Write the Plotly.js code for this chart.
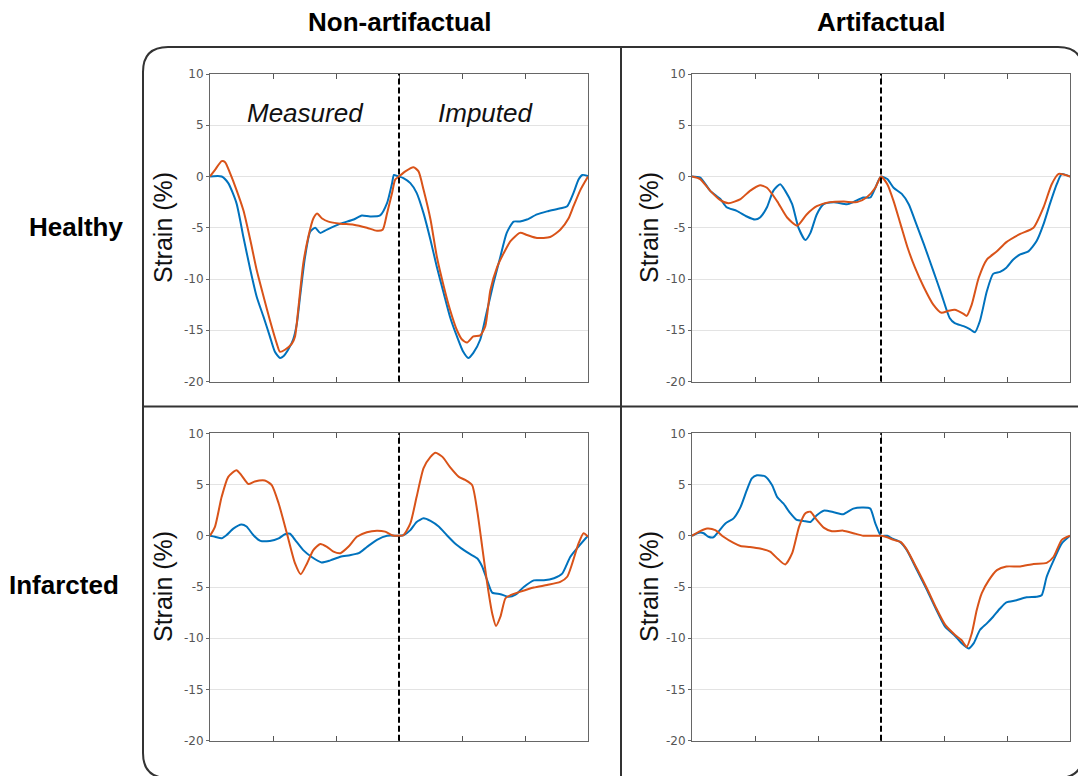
<!DOCTYPE html>
<html>
<head>
<meta charset="utf-8">
<script src="https://cdn.plot.ly/plotly-3.0.1.min.js"></script>
<style>html,body{margin:0;padding:0;background:#fff;}#chart{width:1078px;height:776px;}</style>
</head>
<body>
<div id="chart"></div>
<script>
// ---- Data (strain %) ----
const columnTitles = ["Non-artifactual", "Artifactual"];
const rowTitles = ["Healthy", "Infarcted"];
const phaseLabels = ["Measured", "Imputed"];
const yTickVals = [-20, -15, -10, -5, 0, 5, 10];
const yTickText = ["-20", "-15", "-10", "-5", "0", "5", "10"];
const xTickVals = [10, 20, 30, 40, 50];
const splitX = 30;

// Healthy / Non-artifactual
const hnBlueX = [0,1.85,2.9,4.2,5.3,6.4,7.4,8.5,9.5,10.3,11.1,11.7,12.4,13.2,13.8,14.3,15.1,15.9,16.7,17.5,18.5,20.7,22.8,24.1,25.4,27.0,28.1,28.9,29.2,29.7,30,30.7,31.8,32.8,33.9,35.0,36.0,37.1,38.1,39.2,40.2,41.0,41.8,42.9,43.9,45.0,46.1,47.1,48.2,49.2,50.3,51.9,53.5,55.6,56.7,57.7,58.5,59.1,60];
const hnBlueY = [0,0,-0.65,-2.6,-5.9,-9.1,-11.7,-13.7,-15.6,-17.1,-17.7,-17.5,-16.9,-15.9,-14.3,-11.7,-7.8,-5.4,-5.0,-5.5,-5.2,-4.6,-4.2,-3.8,-3.9,-3.8,-2.6,-0.65,0.15,0.05,0,-0.15,-0.65,-1.6,-3.6,-6.2,-8.8,-11.4,-13.7,-15.6,-17.1,-17.7,-17.2,-15.9,-13.3,-10.4,-7.8,-5.5,-4.4,-4.4,-4.2,-3.7,-3.4,-3.1,-2.9,-1.6,-0.3,0.15,0.05];
const hnOrangeX = [0,0.8,1.85,2.4,3.2,4.2,5.3,6.4,7.4,8.5,9.5,10.6,11.1,11.9,13.0,13.5,14.0,14.8,15.6,16.4,17.0,17.8,18.8,20.7,22.8,24.9,26.5,27.4,28.1,28.9,29.4,30,31.0,32.3,33.1,33.9,35.0,36.0,37.1,38.1,39.2,40.0,40.8,41.8,42.9,43.7,44.5,45.6,46.6,47.7,49.2,50.3,51.9,54.0,55.6,56.9,57.7,58.8,60];
const hnOrangeY = [0,0.65,1.5,1.4,0.3,-1.3,-3.3,-6.2,-9.1,-11.7,-14,-16.3,-17.1,-16.9,-16.3,-15.6,-13.0,-8.5,-5.9,-4.1,-3.6,-4.1,-4.4,-4.6,-4.7,-5.0,-5.3,-5.2,-3.6,-1.6,-0.3,0,0.5,0.9,0.5,-1.3,-4.2,-7.8,-10.7,-13,-15.0,-15.9,-16.2,-15.6,-15.5,-14.6,-11.1,-8.8,-7.5,-6.3,-5.5,-5.7,-6.0,-5.9,-5.2,-4.1,-2.9,-1.3,0];

// Healthy / Artifactual
const haBlueX = [0,1.3,2.9,4.5,5.5,7.1,8.7,10.0,10.8,11.9,12.9,14.0,14.8,15.9,16.9,18.0,18.8,19.8,20.9,22.5,24.6,25.6,27.2,28.3,29.1,30,31.0,32.0,33.3,34.4,35.4,36.8,38.3,39.6,40.9,41.7,43.1,44.1,44.9,45.7,46.8,47.8,48.9,49.9,51.0,52.1,53.4,54.7,55.8,56.8,57.9,58.7,60];
const haBlueY = [0,-0.1,-1.4,-2.2,-3.0,-3.35,-3.9,-4.2,-4.0,-3.0,-1.4,-0.75,-1.4,-2.7,-5.0,-6.2,-5.5,-3.7,-2.7,-2.5,-2.7,-2.5,-2.05,-2.05,-1.1,0,-0.25,-1.1,-1.7,-2.7,-4.3,-6.6,-9.2,-11.5,-13.8,-14.3,-14.6,-14.9,-15.2,-14.1,-11.2,-9.5,-9.3,-8.9,-8.1,-7.6,-7.3,-6.3,-4.65,-2.7,-0.75,0.25,0];
const haOrangeX = [0,1.3,2.9,4.5,5.8,7.7,9.2,10.8,11.9,13.5,15.1,16.7,18.2,19.8,21.9,24.1,26.2,27.7,29.1,30,31.0,32.0,33.1,34.2,35.4,36.8,38.3,39.6,40.7,41.7,43.1,43.6,44.4,45.5,46.8,48.4,49.9,52.1,54.2,55.8,57.1,58.2,60];
const haOrangeY = [0,-0.25,-1.4,-2.3,-2.6,-2.2,-1.4,-0.85,-1.1,-2.4,-4.0,-4.8,-3.7,-2.9,-2.5,-2.45,-2.5,-2.05,-1.1,0,-0.75,-2.4,-4.65,-6.9,-8.9,-10.8,-12.5,-13.3,-13.1,-13.0,-13.4,-13.6,-12.5,-9.9,-8.1,-7.3,-6.4,-5.6,-5.0,-3.0,-0.75,0.25,0];

// Infarcted / Non-artifactual
const inBlueX = [0,0.8,1.85,2.6,3.7,5.0,5.8,6.9,8.0,9.5,10.9,11.9,12.7,13.5,14.8,16.2,17.7,19.1,20.7,22.2,23.6,24.9,26.5,28.1,30,30.7,31.8,32.8,33.9,35.0,36.3,37.6,38.9,40.3,41.3,42.4,43.2,44.0,44.8,46.1,47.4,48.5,49.8,51.4,53.0,54.6,55.9,57.2,58.5,60];
const inBlueY = [0,-0.1,-0.25,0.05,0.7,1.1,0.9,0.05,-0.5,-0.5,-0.25,0.15,0.2,-0.4,-1.4,-2.1,-2.6,-2.4,-2.05,-1.9,-1.7,-1.1,-0.4,0,0,0.05,0.55,1.35,1.7,1.45,0.9,0.05,-0.75,-1.4,-1.8,-2.2,-3.0,-4.35,-5.55,-5.7,-5.95,-5.75,-5.0,-4.35,-4.35,-4.15,-3.7,-2.05,-1.05,0];
const inOrangeX = [0,0.8,1.85,2.9,4.2,5.0,6.1,7.1,8.7,9.8,10.9,12.2,13.5,14.4,15.4,16.4,17.5,18.5,19.6,20.7,22.0,23.3,24.9,26.5,27.8,28.9,30,30.7,31.8,32.8,33.9,35.0,35.8,36.9,38.1,39.5,40.5,41.6,42.4,43.2,44.0,44.8,45.4,46.1,46.9,47.7,49.3,51.4,53.5,55.6,56.7,57.5,58.5,59.3,60];
const inOrangeY = [0,0.9,3.8,5.75,6.4,5.9,5.05,5.3,5.4,4.95,3.15,0.25,-2.7,-3.75,-2.7,-1.4,-0.8,-1.05,-1.55,-1.7,-1.05,-0.1,0.35,0.5,0.4,0.05,0,0.05,1.2,3.8,6.6,7.7,8.1,7.7,6.7,5.75,5.45,4.95,2.5,-1.05,-4.65,-7.6,-8.8,-7.9,-6.1,-5.8,-5.45,-5.05,-4.8,-4.5,-4.0,-2.7,-0.75,0.25,-0.1];

// Infarcted / Artifactual
const iaBlueX = [0,1.1,1.85,2.6,3.4,4.2,5.3,6.6,7.7,8.7,9.5,10.3,11.6,12.7,13.5,14.5,15.6,16.6,17.7,18.8,19.8,20.9,22.5,24.0,25.6,27.2,28.3,29.1,30,31.0,31.7,33.0,34.1,35.7,37.3,38.8,40.2,41.8,42.8,43.9,44.7,45.7,46.8,47.8,48.9,49.9,51.5,53.1,54.7,55.5,56.3,57.4,58.7,60];
const iaBlueY = [0,0.3,0.25,-0.1,-0.15,0.4,1.2,1.7,2.8,4.45,5.6,5.9,5.8,4.95,3.8,3.15,2.2,1.55,1.45,1.35,2.0,2.45,2.3,2.1,2.65,2.75,2.65,1.2,0,0,-0.25,-0.6,-1.4,-3.35,-5.3,-7.25,-8.9,-9.8,-10.5,-11.0,-10.5,-9.2,-8.55,-7.9,-7.1,-6.5,-6.3,-6.0,-5.95,-5.8,-4.0,-2.4,-0.75,0];
const iaOrangeX = [0,1.3,2.4,3.7,5.0,6.6,7.7,9.2,10.8,12.4,13.7,14.8,15.9,17.0,18.0,18.8,19.8,20.9,22.2,24.0,25.6,27.2,28.8,30,31.0,32.0,33.1,34.1,35.7,37.3,38.8,40.2,41.8,42.8,43.6,44.4,45.2,46.0,47.1,48.4,49.9,52.1,54.2,56.3,57.4,58.7,60];
const iaOrangeY = [0,0.45,0.7,0.55,-0.1,-0.7,-1.0,-1.1,-1.25,-1.55,-2.3,-2.8,-1.7,0.9,2.2,2.35,1.55,0.8,0.45,0.5,0.25,0,0,0,-0.15,-0.4,-0.6,-1.35,-3.2,-5.15,-7.1,-8.7,-9.7,-10.2,-10.85,-9.55,-7.25,-5.6,-4.35,-3.35,-3.0,-3.0,-2.75,-2.65,-2.05,-0.4,0];

// ---- Styling ----
const W = 1078, H = 776;
const BLUE = "#0072BD", ORANGE = "#D95319";
const px = v => v / W;
const py = v => 1 - v / H;

const panels = [
  {bx: hnBlueX, by: hnBlueY, ox: hnOrangeX, oy: hnOrangeY, xa: "x",  ya: "y"},
  {bx: haBlueX, by: haBlueY, ox: haOrangeX, oy: haOrangeY, xa: "x2", ya: "y2"},
  {bx: inBlueX, by: inBlueY, ox: inOrangeX, oy: inOrangeY, xa: "x3", ya: "y3"},
  {bx: iaBlueX, by: iaBlueY, ox: iaOrangeX, oy: iaOrangeY, xa: "x4", ya: "y4"}
];

const traces = [];
panels.forEach(p => {
  traces.push({x: p.bx, y: p.by, xaxis: p.xa, yaxis: p.ya, type: "scatter", mode: "lines",
    line: {color: BLUE, width: 2, shape: "spline", smoothing: 0.6}, showlegend: false, hoverinfo: "skip"});
  traces.push({x: p.ox, y: p.oy, xaxis: p.xa, yaxis: p.ya, type: "scatter", mode: "lines",
    line: {color: ORANGE, width: 2, shape: "spline", smoothing: 0.6}, showlegend: false, hoverinfo: "skip"});
});

const colDomains = [[px(210), px(588)], [px(692), px(1070)]];
const rowDomains = [[py(381.5), py(74)], [py(740.7), py(433.3)]];

function xAxis(dom, anchor) {
  return {domain: dom, anchor: anchor, range: [0, 60], tickvals: xTickVals, showticklabels: false,
    ticks: "inside", ticklen: 5, tickcolor: "#555", tickwidth: 1, mirror: "ticks",
    showline: true, linecolor: "#666", linewidth: 1, showgrid: false, zeroline: false, fixedrange: true};
}
function yAxis(dom, anchor) {
  return {domain: dom, anchor: anchor, range: [-20, 10], tickvals: yTickVals, ticktext: yTickText,
    ticks: "outside", ticklen: 3, tickcolor: "#666", tickwidth: 1, mirror: true,
    showline: true, linecolor: "#666", linewidth: 1, showgrid: true, gridcolor: "#e3e3e3", gridwidth: 1,
    zeroline: false, tickfont: {family: "DejaVu Sans, Verdana, sans-serif", size: 12, color: "#555"}, fixedrange: true};
}

const layout = {
  width: W, height: H,
  margin: {l: 0, r: 0, t: 0, b: 0},
  paper_bgcolor: "#fff", plot_bgcolor: "#fff",
  showlegend: false,
  xaxis:  xAxis(colDomains[0], "y"),
  yaxis:  yAxis(rowDomains[0], "x"),
  xaxis2: xAxis(colDomains[1], "y2"),
  yaxis2: yAxis(rowDomains[0], "x2"),
  xaxis3: xAxis(colDomains[0], "y3"),
  yaxis3: yAxis(rowDomains[1], "x3"),
  xaxis4: xAxis(colDomains[1], "y4"),
  yaxis4: yAxis(rowDomains[1], "x4"),
  shapes: [],
  annotations: []
};

// dashed split lines
["", "2", "3", "4"].forEach(s => {
  layout.shapes.push({type: "line", xref: "x" + s, yref: "y" + s + " domain", x0: splitX, x1: splitX, y0: 0, y1: 1,
    line: {color: "#000", width: 2, dash: "6px,3px"}, layer: "above"});
});

// rounded frame (extends slightly past the right and bottom edges, as in the reference)
const L = px(143), R = px(1083), T = py(47), B = py(778);
const rx = 25 / W, ry = 25 / H;
const framePath = `M ${L + rx},${T} L ${R - rx},${T} Q ${R},${T} ${R},${T - ry} L ${R},${B + ry} Q ${R},${B} ${R - rx},${B} L ${L + rx},${B} Q ${L},${B} ${L},${B + ry} L ${L},${T - ry} Q ${L},${T} ${L + rx},${T} Z`;
layout.shapes.push({type: "path", xref: "paper", yref: "paper", path: framePath, line: {color: "#333", width: 2}});
layout.shapes.push({type: "line", xref: "paper", yref: "paper", x0: px(621), x1: px(621), y0: T, y1: B, line: {color: "#333", width: 2}});
layout.shapes.push({type: "line", xref: "paper", yref: "paper", x0: L, x1: R, y0: py(406.5), y1: py(406.5), line: {color: "#333", width: 2}});

const boldFont = {family: "Liberation Sans, Arial, sans-serif", size: 26, color: "#000", weight: "bold"};
function ann(text, x, y, font, extra) {
  layout.annotations.push(Object.assign({text: text, xref: "paper", yref: "paper", x: px(x), y: py(y),
    xanchor: "center", yanchor: "middle", showarrow: false, font: font}, extra || {}));
}
ann("<b>" + columnTitles[0] + "</b>", 400, 22, boldFont);
ann("<b>" + columnTitles[1] + "</b>", 881, 22, boldFont);
ann("<b>" + rowTitles[0] + "</b>", 76, 227, boldFont);
ann("<b>" + rowTitles[1] + "</b>", 64, 585, boldFont);
const italicFont = {family: "Liberation Sans, Arial, sans-serif", size: 26, color: "#111", style: "italic"};
ann("<i>" + phaseLabels[0] + "</i>", 305, 113, italicFont);
ann("<i>" + phaseLabels[1] + "</i>", 485, 113, italicFont);
const yTitleFont = {family: "Liberation Sans, Arial, sans-serif", size: 25, color: "#111"};
[[163, 228], [649, 228], [163, 587], [649, 587]].forEach(c => ann("Strain (%)", c[0], c[1], yTitleFont, {textangle: -90}));

Plotly.newPlot("chart", traces, layout, {displayModeBar: false, staticPlot: true});
</script>
</body>
</html>
